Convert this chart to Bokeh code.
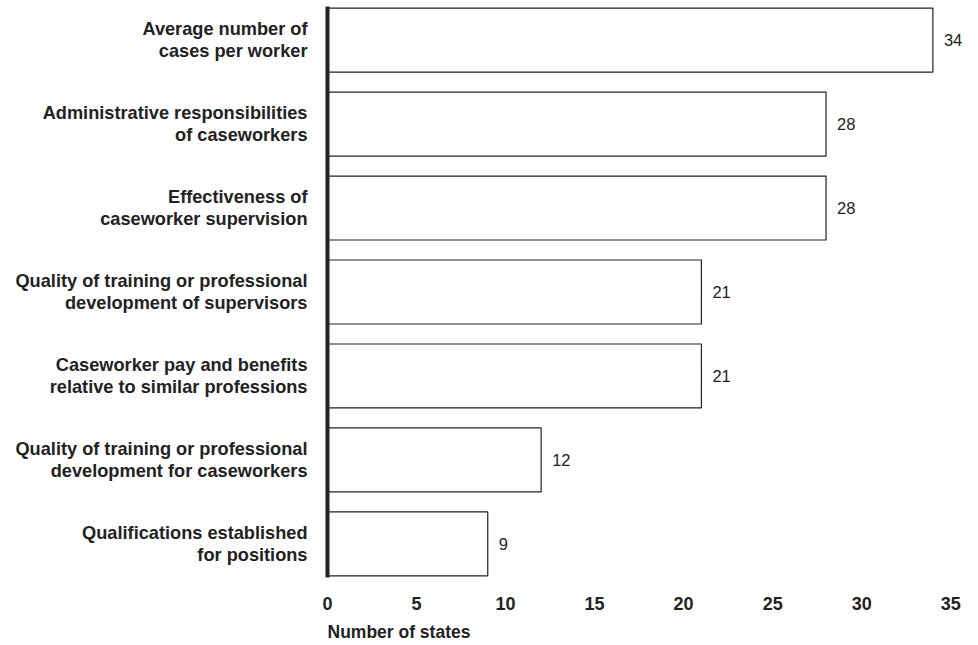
from bokeh.plotting import figure
from bokeh.models import Range1d, FixedTicker, Title, ColumnDataSource
from bokeh.core.properties import value
from bokeh.embed import file_html
from bokeh.resources import INLINE

categories = [
    "Average number of\ncases per worker",
    "Administrative responsibilities\nof caseworkers",
    "Effectiveness of\ncaseworker supervision",
    "Quality of training or professional\ndevelopment of supervisors",
    "Caseworker pay and benefits\nrelative to similar professions",
    "Quality of training or professional\ndevelopment for caseworkers",
    "Qualifications established\nfor positions",
]
values = [34, 28, 28, 21, 21, 12, 9]
x_ticks = [0, 5, 10, 15, 20, 25, 30, 35]
x_label = "Number of states"

n = len(categories)
ypos = [n - 1 - i for i in range(n)]

src = ColumnDataSource(dict(y=ypos, v=values, lbl=[str(v) for v in values]))

p = figure(
    output_backend="svg", toolbar_location=None,
    frame_width=641, frame_height=571,
    min_border_left=327, min_border_right=2, min_border_top=6, min_border_bottom=0,
    x_range=Range1d(0, 36.0), y_range=Range1d(-0.40, n - 1 + 0.40),
)
p.outline_line_color = None
p.xgrid.visible = False
p.ygrid.visible = False
p.background_fill_color = "white"
p.border_fill_color = "white"

p.hbar(y="y", left=0, right="v", height=0.762, source=src,
       fill_color="white", line_color="#222222", line_width=1.2)

p.text(x="v", y="y", text="lbl", source=src, x_offset=11,
       text_baseline="middle", text_align="left", text_font=value("Liberation Sans"),
       text_font_size="16.5px", text_color="#222222")

# y axis
ya = p.yaxis[0]
ya.ticker = FixedTicker(ticks=ypos)
ya.major_label_overrides = {yv: c for yv, c in zip(ypos, categories)}
ya.major_tick_line_color = None
ya.minor_tick_line_color = None
ya.axis_line_width = 4
ya.axis_line_color = "#222222"
ya.major_label_standoff = 14
ya.major_label_text_font = "Liberation Sans"
ya.major_label_text_font_style = "bold"
ya.major_label_text_font_size = "18.2px"
ya.major_label_text_color = "#222222"
ya.major_label_text_line_height = 1.12

# x axis
xa = p.xaxis[0]
xa.ticker = FixedTicker(ticks=x_ticks)
xa.axis_line_color = None
xa.major_tick_line_color = None
xa.minor_tick_line_color = None
xa.major_label_standoff = 13
xa.major_label_text_font = "Liberation Sans"
xa.major_label_text_font_style = "bold"
xa.major_label_text_font_size = "18px"
xa.major_label_text_color = "#222222"

t = Title(text=x_label, align="left", text_font="Liberation Sans",
          text_font_style="bold", text_font_size="17.5px", text_color="#222222",
          standoff=14)
p.add_layout(t, "below")

open("out.html", "w").write(file_html(p, INLINE))
